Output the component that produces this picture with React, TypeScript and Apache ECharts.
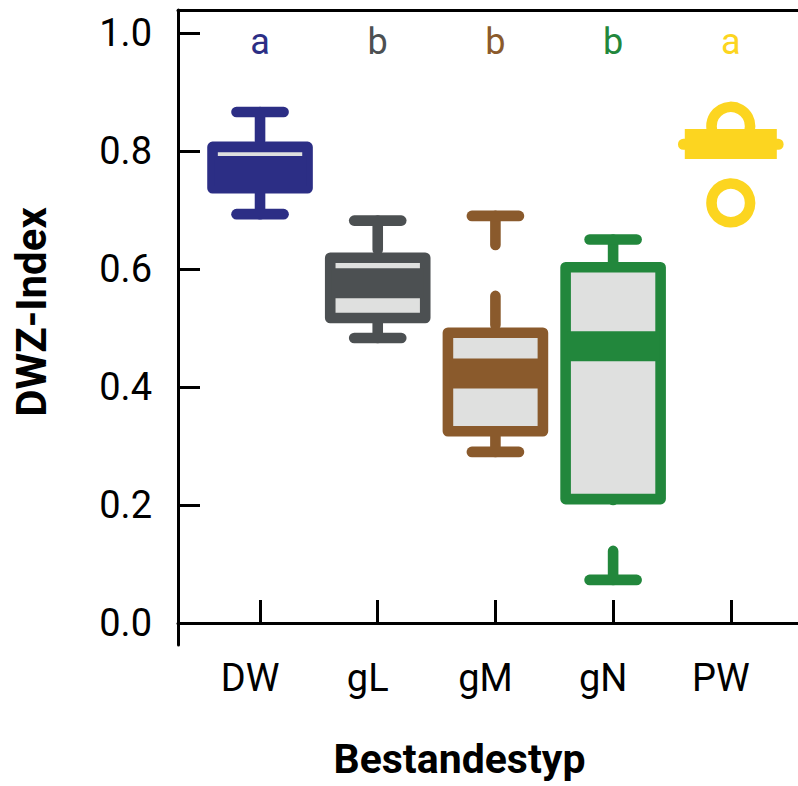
import React, { useEffect, useRef } from "react";
import * as echarts from "echarts";

// ---- data ----
const CATEGORIES = ["DW", "gL", "gM", "gN", "PW"];
const WHISKER_LOW = [0.693, 0.483, 0.29, 0.073, 0.812];
const Q1 = [0.737, 0.517, 0.325, 0.21, 0.812];
const MEDIAN = [0.766, 0.576, 0.423, 0.469, 0.812];
const Q3 = [0.807, 0.619, 0.492, 0.603, 0.812];
const WHISKER_HIGH = [0.866, 0.682, 0.69, 0.65, 0.812];
const LETTERS = ["a", "b", "b", "b", "a"];
// outliers: [group position (1-based), value]
const OUTLIER_GROUP = [5, 5];
const OUTLIER_VALUE = [0.842, 0.712];
const Y_TICKS = [0, 0.2, 0.4, 0.6, 0.8, 1.0];
const X_TICKS = [1, 2, 3, 4, 5];

// ---- styles ----
const COLORS = ["#2c2e85", "#4c5052", "#8a5a2c", "#22873c", "#fcd520"];
const LIGHT = "#dfe0df";
const FONT = "Roboto, 'Noto Sans', sans-serif";
const LW = 10.6;
const LETTER_Y = 0.985;

export default function App() {
  const ref = useRef<HTMLDivElement>(null);

  useEffect(() => {
    if (!ref.current) return;
    const chart = echarts.init(ref.current, undefined, { renderer: "svg" });

    const boxData = CATEGORIES.map((_, i) => [
      i + 1,
      WHISKER_LOW[i],
      Q1[i],
      MEDIAN[i],
      Q3[i],
      WHISKER_HIGH[i],
    ]);

    const outlierData = OUTLIER_GROUP.map((g, i) => ({
      value: [g, OUTLIER_VALUE[i]],
      itemStyle: { borderColor: COLORS[g - 1] },
    }));

    const option: any = {
      animation: false,
      backgroundColor: "#fff",
      grid: { left: 178, right: 0, top: 10, bottom: 141 },
      xAxis: [
        {
          type: "value",
          min: 0.303,
          max: 5.571,
          position: "bottom",
          splitLine: { show: false },
          axisLine: { show: true, lineStyle: { color: "#000", width: 3 } },
          axisTick: {
            show: true,
            inside: true,
            length: 23,
            lineStyle: { color: "#000", width: 3 },
            customValues: X_TICKS,
          },
          axisLabel: {
            show: true,
            customValues: X_TICKS,
            formatter: (v: number) => CATEGORIES[Math.round(v) - 1] ?? "",
            color: "#000",
            fontSize: 38,
            fontFamily: FONT,
            margin: 14,
            padding: [0, 20, 0, 0],
          },
        },
        {
          type: "value",
          min: 0.303,
          max: 5.571,
          position: "top",
          splitLine: { show: false },
          axisLine: { show: true, lineStyle: { color: "#000", width: 3 } },
          axisTick: { show: false },
          axisLabel: { show: false },
        },
      ],
      yAxis: {
        type: "value",
        min: -0.0373,
        max: 1.039,
        splitLine: { show: false },
        axisLine: { show: true, lineStyle: { color: "#000", width: 3 } },
        axisTick: {
          show: true,
          inside: true,
          length: 22,
          lineStyle: { color: "#000", width: 3 },
          customValues: Y_TICKS,
        },
        axisLabel: {
          show: true,
          customValues: Y_TICKS,
          formatter: (v: number) => v.toFixed(1),
          color: "#000",
          fontSize: 38,
          fontFamily: FONT,
          margin: 26,
          padding: [8, 0, 0, 0],
        },
      },
      graphic: [
        {
          type: "text",
          x: 31,
          y: 312,
          rotation: Math.PI / 2,
          style: {
            text: "DWZ-Index",
            fontSize: 42,
            fontWeight: "bold",
            fontFamily: FONT,
            fill: "#000",
            align: "center",
            verticalAlign: "middle",
          },
        },
        {
          type: "text",
          x: 459.5,
          y: 759,
          style: {
            text: "Bestandestyp",
            fontSize: 41,
            fontWeight: "bold",
            fontFamily: FONT,
            fill: "#000",
            align: "center",
            verticalAlign: "middle",
          },
        },
      ],
      series: [
        {
          type: "scatter",
          data: outlierData,
          symbol: "circle",
          symbolSize: 38.6,
          itemStyle: { color: "rgba(0,0,0,0)", borderWidth: LW, opacity: 1 },
          z: 2,
        },
        {
          type: "custom",
          data: boxData,
          encode: { x: 0, y: [1, 2, 3, 4, 5] },
          z: 3,
          renderItem: (params: any, api: any) => {
            const idx = params.dataIndex;
            const color = COLORS[idx];
            const x = api.value(0);
            const unit = api.size([1, 0])[0];
            const halfBox = unit * 0.4036;
            const halfCap = unit * 0.2;
            const halfMed = unit * 0.391;
            const [cx, yLo] = api.coord([x, api.value(1)]);
            const yQ1 = api.coord([x, api.value(2)])[1];
            const yMed = api.coord([x, api.value(3)])[1];
            const yQ3 = api.coord([x, api.value(4)])[1];
            const yHi = api.coord([x, api.value(5)])[1];
            const yLetter = api.coord([x, LETTER_Y])[1];
            const whiskerStyle = {
              stroke: color,
              lineWidth: LW,
              lineDash: [29, 51],
              lineCap: "round",
              fill: null,
            };
            const capStyle = {
              stroke: color,
              lineWidth: LW,
              lineCap: "round",
              fill: null,
            };
            const children: any[] = [];
            if (yQ3 - yHi > 0.5) {
              children.push({
                type: "line",
                shape: { x1: cx, y1: yHi, x2: cx, y2: yQ3 },
                style: whiskerStyle,
              });
            }
            if (yLo - yQ1 > 0.5) {
              children.push({
                type: "line",
                shape: { x1: cx, y1: yLo, x2: cx, y2: yQ1 },
                style: whiskerStyle,
              });
            }
            children.push({
              type: "rect",
              shape: {
                x: cx - halfBox,
                y: yQ3,
                width: 2 * halfBox,
                height: Math.max(yQ1 - yQ3, 0.5),
              },
              style: {
                fill: LIGHT,
                stroke: color,
                lineWidth: LW,
                lineJoin: "round",
              },
            });
            children.push({
              type: "line",
              shape: { x1: cx - halfCap, y1: yHi, x2: cx + halfCap, y2: yHi },
              style: capStyle,
            });
            children.push({
              type: "line",
              shape: { x1: cx - halfCap, y1: yLo, x2: cx + halfCap, y2: yLo },
              style: capStyle,
            });
            children.push({
              type: "rect",
              shape: {
                x: cx - halfMed,
                y: yMed - 15,
                width: 2 * halfMed,
                height: 30,
              },
              style: { fill: color, stroke: null },
            });
            children.push({
              type: "text",
              x: cx,
              y: yLetter,
              style: {
                text: LETTERS[idx],
                fill: color,
                fontSize: 36,
                fontFamily: FONT,
                align: "center",
                verticalAlign: "middle",
              },
            });
            return { type: "group", children };
          },
        },
      ],
    };

    chart.setOption(option);
    return () => chart.dispose();
  }, []);

  return (
    <div
      ref={ref}
      style={{
        position: "fixed",
        left: 0,
        top: 0,
        width: 798,
        height: 786,
      }}
    />
  );
}
